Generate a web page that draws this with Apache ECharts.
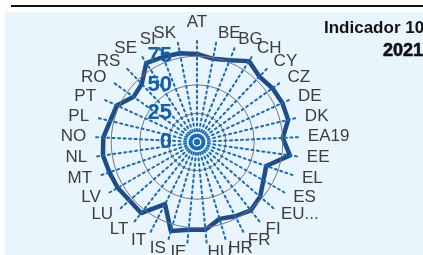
<!DOCTYPE html>
<html>
<head>
<meta charset="utf-8">
<script src="https://cdn.jsdelivr.net/npm/echarts@6/dist/echarts.min.js"></script>
<style>
  html, body { margin: 0; padding: 0; background: #fff; }
  #chart { width: 423px; height: 255px; }
</style>
</head>
<body>
<div id="chart"></div>
<script>
// countries around the circle, clockwise from top
const countries = ["AT", "BE", "BG", "CH", "CY", "CZ", "DE", "DK", "EA19", "EE", "EL", "ES", "EU27_2020",
  "FI", "FR", "HR", "HU", "IE", "IS", "IT", "LT", "LU", "LV", "MT", "NL", "NO",
  "PL", "PT", "RO", "RS", "SE", "SI", "SK"];
const values2021 = [77, 74, 77, 84, 79, 81, 82, 82, 75, 82, 64, 67, 73,
  76, 73, 70, 77, 77, 81, 61, 79, 78, 80, 81, 83, 82,
  78, 77, 68, 70, 82, 80, 79];
const radiusTicks = [0, 25, 50, 75];
const axisMax = 90;
const tickStep = 5; // internal split step, only radiusTicks get a label and a ring

// echarts radar runs counter-clockwise, so keep the first item and reverse the rest
const order = [0].concat(countries.map((c, i) => i).slice(1).reverse());
const indicators = order.map((i, k) => {
  const ind = { name: countries[i], min: 0, max: axisMax };
  if (k === 0) {
    ind.axisLabel = {
      show: true,
      fontSize: 22,
      fontWeight: "bold",
      color: "#1560a8",
      margin: 25,
      formatter: (v) => (radiusTicks.includes(Math.round(v)) && Math.abs(v - Math.round(v)) < 1e-6 ? String(Math.round(v)) : ""),
    };
  }
  return ind;
});
const radarValues = order.map((i) => values2021[i]);

// one colour per split ring: grey on the labelled ticks, transparent otherwise
const ringColors = [];
for (let v = 0; v <= axisMax; v += tickStep) {
  ringColors.push(radiusTicks.includes(v) && v > 0 ? "#777" : "rgba(0,0,0,0)");
}

const chart = echarts.init(document.getElementById("chart"));
chart.setOption({
  animation: false,
  textStyle: { fontFamily: "Liberation Sans" },
  graphic: [
    { type: "rect", z: -10, shape: { x: 5, y: 12, width: 420, height: 245 }, style: { fill: "#e9f5fd" } },
    { type: "rect", shape: { x: 11, y: 5, width: 415, height: 2 }, style: { fill: "#111" } },
  ],
  title: [
    { text: "Indicador 10.1.1", left: 324, top: 20, padding: 0, textStyle: { fontSize: 17, fontWeight: "bold", color: "#111" } },
    { text: "2021", left: 383, top: 42, padding: 0,
      textStyle: { fontSize: 18, fontWeight: "bold", color: "#111", textBorderColor: "#111", textBorderWidth: 0.6 } },
  ],
  radar: {
    z: 3, // axes and tick labels sit on top of the line, as in the original
    center: [197, 142],
    radius: 103,
    startAngle: 90,
    shape: "circle",
    splitNumber: axisMax / tickStep,
    indicator: indicators,
    nameGap: 8,
    axisName: {
      color: "#3d3d3d",
      fontSize: 17,
      formatter: (name) => (name.length > 4 ? name.slice(0, 2) + "..." : name),
    },
    axisLine: { lineStyle: { color: "#1a6bb5", width: 2, type: [2, 3.5] } },
    axisLabel: { show: false },
    splitArea: { show: false },
    splitLine: { lineStyle: { color: ringColors, width: 1 } },
  },
  series: [
    {
      name: "2021",
      type: "radar",
      symbol: "none",
      data: [{ value: radarValues, name: "2021" }],
      lineStyle: { color: "#1f4c88", width: 4.5 },
    },
  ],
});
</script>
</body>
</html>
